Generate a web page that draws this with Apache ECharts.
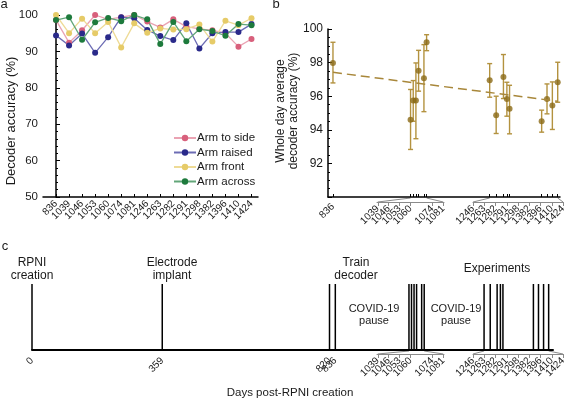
<!DOCTYPE html>
<html>
<head>
<meta charset="utf-8">
<script src="https://cdn.jsdelivr.net/npm/echarts@6/dist/echarts.min.js"></script>
<style>
  html, body { margin: 0; padding: 0; background: #fff; }
  #chart { width: 575px; height: 399px; }
</style>
</head>
<body>
<div id="chart"></div>
<script>
// session days (days post-RPNI creation)
const sessionDays = ['836', '1039', '1046', '1053', '1060', '1074', '1081', '1246', '1263', '1282', '1291', '1298', '1382', '1396', '1410', '1424'];
const firstBlock = [1039, 1046, 1053, 1060, 1074, 1081];
const secondBlock = ['1246', '1263', '1282', '1291', '1298', '1382', '1396', '1410', '1424'];

// panel a: decoder accuracy per posture (%)
const armToSide = [98.6, 92.4, 95.8, 100, 98.8, 99.4, 100, 98.2, 96.6, 98.8, 96.8, 96.2, 95.8, 95.0, 91.3, 93.4];
const armRaised = [94.4, 91.6, 94.9, 89.6, 93.9, 99.4, 99.1, 95.9, 94.2, 93.1, 97.7, 90.8, 95.0, 95.3, 95.3, 97.5];
const armFront = [100, 95.0, 99.0, 95.0, 98.1, 91.1, 97.7, 95.1, 96.3, 96.0, 96.1, 97.4, 92.7, 98.4, 97.2, 99.1];
const armAcross = [98.6, 99.4, 93.2, 98.0, 99.2, 98.3, 100, 98.8, 92.0, 98.1, 92.8, 96.1, 95.6, 94.3, 97.5, 97.2];

// panel b: whole day average with error bars
const dayAverage = [97.98, 94.6, 95.74, 95.74, 97.52, 97.07, 99.21, 96.95, 94.87, 97.15, 95.84, 95.25, 94.51, 95.84, 95.45, 96.83];
const errLow = [96.79, 92.83, 94.51, 93.47, 96.3, 95.08, 98.71, 95.94, 93.78, 95.86, 94.81, 93.76, 93.86, 94.95, 94.02, 95.64];
const errHigh = [99.21, 96.4, 96.93, 97.98, 98.73, 99.07, 99.66, 97.94, 96.0, 98.48, 96.83, 96.65, 95.17, 96.73, 96.85, 98.02];
const trendDays = [836, 1424];
const trendValues = [97.42, 95.7];

// panel c: timeline
const timelineDays = [0, 359, 820, 836, 1039, 1046, 1053, 1060, 1074, 1081, 1246, 1263, 1282, 1291, 1298, 1382, 1396, 1410, 1424];
const timelineLabels = [0, 359, 820, 836];

const FONT = '"Liberation Sans", Arial, sans-serif';
const INK = '#1a1a1a';
const dayNums = sessionDays.map(Number);
const idx = sessionDays.map((d, i) => i);
const plain = v => String(v);

const chart = echarts.init(document.getElementById('chart'));

const txt = (size) => ({ fontFamily: FONT, fontSize: size, color: INK });
const blackLine = (w) => ({ show: true, lineStyle: { color: '#000', width: w } });
// echarts drops the neighbour of a forced min/max label when rotated labels touch,
// so the value axes carry an empty label at each end and hide only those
const dropEnds = { showMinLabel: false, showMaxLabel: false };

// expanded axis pair used under panels b and c
function expandedAxes(gridA, gridB) {
  const lo = 1038.5;
  const hi = 1081.5;
  const marks = [lo, ...firstBlock, hi];
  return [
    {
      type: 'value', gridIndex: gridA, min: lo, max: hi,
      axisLine: { show: true, lineStyle: { color: '#8a8a8a', width: 1 } },
      axisTick: { show: true, customValues: marks, length: 4, lineStyle: { color: '#8a8a8a' } },
      axisLabel: {
        customValues: marks, rotate: 45, margin: 5, ...dropEnds, ...txt(10),
        formatter: v => (firstBlock.includes(v) ? String(v) : '')
      },
      splitLine: { show: false }
    },
    {
      type: 'category', gridIndex: gridB, data: secondBlock, boundaryGap: false,
      axisLine: { show: true, lineStyle: { color: '#8a8a8a', width: 1 } },
      axisTick: { show: true, interval: 0, length: 4, lineStyle: { color: '#8a8a8a' } },
      axisLabel: { interval: 0, rotate: 45, margin: 5, ...txt(10) },
      splitLine: { show: false }
    }
  ];
}
const hiddenY = (g) => ({ type: 'value', gridIndex: g, min: 0, max: 1, show: false });

function posture(name, values, dot, line) {
  return {
    name, type: 'line', xAxisIndex: 0, yAxisIndex: 0,
    data: values.map((v, i) => [i, v]),
    symbol: 'circle', symbolSize: 6,
    itemStyle: { color: dot },
    lineStyle: { color: line, width: 1.3 },
    emphasis: { disabled: true }
  };
}

const aMarks = [-1, ...idx, 15.5];

const option = {
  animation: false,
  backgroundColor: '#fff',
  grid: [
    { left: 43, top: 15, width: 215, height: 182 },       // a
    { left: 328, top: 29, width: 232, height: 168 },      // b
    { left: 377, top: 190, width: 67, height: 12 },       // b expanded 1
    { left: 473, top: 190, width: 90, height: 12 },       // b expanded 2
    { left: 32, top: 284, width: 521, height: 66 },       // c
    { left: 377, top: 342, width: 67, height: 12 },       // c expanded 1
    { left: 473, top: 342, width: 90, height: 12 }        // c expanded 2
  ].map(g => ({ ...g, outerBoundsMode: 'none' })),
  legend: {
    left: 168, top: 127, orient: 'vertical', itemGap: 2.5,
    itemWidth: 22, itemHeight: 8,
    textStyle: { ...txt(11.5), padding: [0, 0, 0, -4] },
    data: ['Arm to side', 'Arm raised', 'Arm front', 'Arm across']
  },
  xAxis: [
    {
      type: 'value', gridIndex: 0, min: -1, max: 15.5,
      axisLine: blackLine(1.5),
      axisTick: { show: true, customValues: aMarks, inside: true, length: 3, lineStyle: { color: '#000' } },
      axisLabel: {
        customValues: aMarks, rotate: 45, margin: 5, ...dropEnds, ...txt(10),
        formatter: v => (sessionDays[v] !== undefined ? sessionDays[v] : '')
      },
      splitLine: { show: false }
    },
    {
      type: 'value', gridIndex: 1, min: 823, max: 1430,
      axisLine: blackLine(1.5),
      axisTick: { show: true, customValues: dayNums, inside: true, length: 3, lineStyle: { color: '#000' } },
      axisLabel: { customValues: [836], rotate: 45, margin: 8, formatter: plain, ...txt(10) },
      splitLine: { show: false }
    },
    ...expandedAxes(2, 3),
    {
      type: 'value', gridIndex: 4, min: 0, max: 1436,
      axisLine: blackLine(2),
      axisTick: { show: false },
      axisLabel: {
        customValues: [...timelineLabels, 1436], rotate: 45, margin: 9,
        showMinLabel: true, showMaxLabel: false, ...txt(10),
        formatter: v => (timelineLabels.includes(v) ? String(v) : '')
      },
      splitLine: { show: false }
    },
    ...expandedAxes(5, 6)
  ],
  yAxis: [
    {
      type: 'value', gridIndex: 0, min: 50, max: 100, interval: 10,
      axisLine: blackLine(1.5),
      axisTick: { show: true, inside: true, length: 4, lineStyle: { color: '#000' } },
      minorTick: { show: true, splitNumber: 5, length: 2, lineStyle: { color: '#000' } },
      axisLabel: { margin: 5, ...txt(11.5) },
      splitLine: { show: false }
    },
    {
      type: 'value', gridIndex: 1, min: 90, max: 100, interval: 2,
      axisLine: blackLine(1.5),
      axisTick: { show: true, inside: true, length: 4, lineStyle: { color: '#000' } },
      minorTick: { show: true, splitNumber: 4, length: 2, lineStyle: { color: '#000' } },
      axisLabel: { margin: 5, formatter: v => (v === 90 ? '' : v), ...txt(12) },
      splitLine: { show: false }
    },
    hiddenY(2), hiddenY(3), hiddenY(4), hiddenY(5), hiddenY(6)
  ],
  series: [
    posture('Arm to side', armToSide, '#d8607c', '#eaa3b3'),
    posture('Arm raised', armRaised, '#2a2a8a', '#6c6cb4'),
    posture('Arm front', armFront, '#e6cb68', '#eedb96'),
    posture('Arm across', armAcross, '#1d7a3c', '#62a679'),
    {
      type: 'custom', xAxisIndex: 1, yAxisIndex: 1,
      data: dayNums.map((d, i) => [d, errLow[i], errHigh[i]]),
      renderItem: (params, api) => {
        const lo = api.coord([api.value(0), api.value(1)]);
        const hi = api.coord([api.value(0), api.value(2)]);
        const cap = 2.5;
        const st = { stroke: '#b3923f', lineWidth: 1.4 };
        return {
          type: 'group',
          children: [
            { type: 'line', shape: { x1: lo[0], y1: lo[1], x2: hi[0], y2: hi[1] }, style: st },
            { type: 'line', shape: { x1: lo[0] - cap, y1: lo[1], x2: lo[0] + cap, y2: lo[1] }, style: st },
            { type: 'line', shape: { x1: hi[0] - cap, y1: hi[1], x2: hi[0] + cap, y2: hi[1] }, style: st }
          ]
        };
      },
      silent: true
    },
    {
      type: 'line', xAxisIndex: 1, yAxisIndex: 1,
      data: trendDays.map((d, i) => [d, trendValues[i]]),
      symbol: 'none',
      lineStyle: { color: '#a8873a', width: 1.5, type: [9, 5] },
      silent: true
    },
    {
      type: 'scatter', xAxisIndex: 1, yAxisIndex: 1,
      data: dayNums.map((d, i) => [d, dayAverage[i]]),
      symbol: 'circle', symbolSize: 6,
      itemStyle: { color: '#8b6a16' },
      silent: true
    },
    {
      type: 'bar', xAxisIndex: 4, yAxisIndex: 4,
      data: timelineDays.map(d => [d, 1]),
      barWidth: 1.5, clip: false,
      itemStyle: { color: '#000' },
      silent: true
    }
  ]
};

chart.setOption(option);

// brackets linking the real positions on the day axis to the expanded axes
function bracket(mainX, mainY, expA, expB, yA, yB) {
  const lines = [];
  const y0 = chart.convertToPixel({ yAxisIndex: mainY }, mainY === 1 ? 90 : 0);
  const ya = chart.convertToPixel({ yAxisIndex: yA }, 0);
  const yb = chart.convertToPixel({ yAxisIndex: yB }, 0);
  const pairs = [
    [1039, expA, firstBlock[0], ya], [1081, expA, firstBlock[firstBlock.length - 1], ya],
    [1246, expB, secondBlock[0], yb], [1424, expB, secondBlock[secondBlock.length - 1], yb]
  ];
  pairs.forEach(([day, ax, v, y]) => {
    const x1 = chart.convertToPixel({ xAxisIndex: mainX }, day);
    const x2 = chart.convertToPixel({ xAxisIndex: ax }, v);
    lines.push({
      type: 'line', silent: true,
      shape: { x1, y1: y0 + 1, x2, y2: y },
      style: { stroke: '#8a8a8a', lineWidth: 1 }
    });
  });
  return lines;
}

const label = (text, x, y, size, extra) => ({
  type: 'text', x, y, silent: true,
  style: {
    text, fontFamily: FONT, fontSize: size, fill: INK,
    textAlign: 'center', textVerticalAlign: 'middle', lineHeight: size + 1.5, ...extra
  }
});

chart.setOption({
  graphic: [
    ...bracket(1, 1, 2, 3, 2, 3),
    ...bracket(4, 4, 5, 6, 5, 6),
    label('a', 4, 4, 13),
    label('b', 276, 4, 13),
    label('c', 5, 246, 13),
    { ...label('Decoder accuracy (%)', 11, 121, 13), rotation: Math.PI / 2 },
    { ...label('Whole day average\ndecoder accuracy (%)', 287, 111, 12), rotation: Math.PI / 2 },
    label('RPNI\ncreation', 32, 269, 12),
    label('Electrode\nimplant', 172, 269, 12),
    label('Train\ndecoder', 356, 269, 12),
    label('COVID-19\npause', 374, 315, 11),
    label('COVID-19\npause', 456, 315, 11),
    label('Experiments', 497, 269, 12),
    label('Days post-RPNI creation', 290, 393, 11.5)
  ]
});
</script>
</body>
</html>
